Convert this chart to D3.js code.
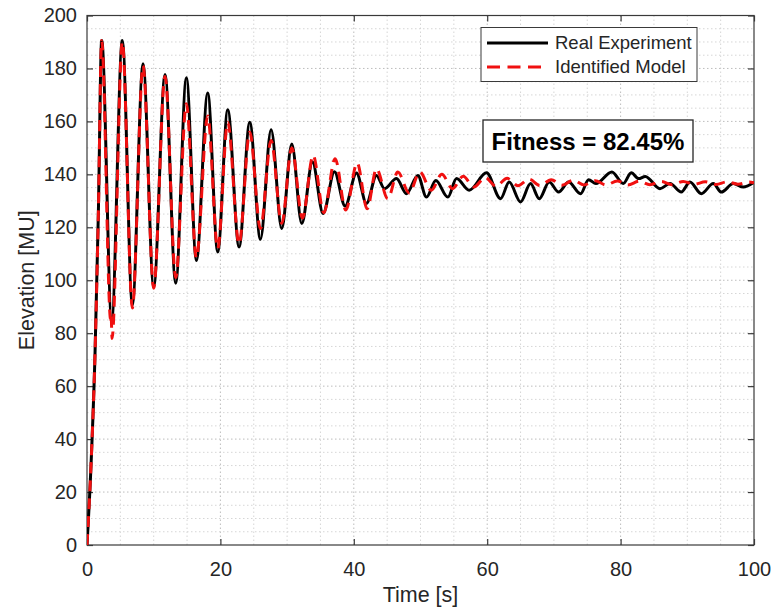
<!DOCTYPE html>
<html>
<head>
<meta charset="utf-8">
<script src="https://cdn.jsdelivr.net/npm/d3@7"></script>
<style>
  html, body { margin: 0; padding: 0; background: #fff; }
  svg { display: block; font-family: "Liberation Sans", Arial, Helvetica, sans-serif; }
</style>
</head>
<body>
<svg id="chart" width="775" height="614"></svg>
<script>
// Measured elevation (local extrema and turning points of the trace)
const realTime = [0, 0.6, 1.2, 1.7, 2.2, 3.7, 5.3, 6.8, 8.4, 10.0, 11.7, 13.3, 14.9, 16.4, 18.1, 19.6,
  21.1, 22.8, 24.4, 26.0, 27.6, 29.2, 30.7, 32.2, 33.8, 35.4, 37.1, 38.7, 40.4, 41.9, 43.4, 44.6,
  46.4, 47.9, 49.6, 50.9, 52.3, 54.1, 55.4, 57.3, 59.9, 62.0, 63.3, 65.0, 66.5, 67.8, 69.3, 70.7,
  72.2, 74.0, 75.2, 76.3, 78.7, 80.4, 81.6, 82.7, 83.7, 85.9, 87.4, 89.1, 90.4, 92.1, 93.9, 95.1,
  96.9, 98.4, 100];
const realElev = [0, 30, 72, 125, 190.6, 85, 190.6, 90.6, 181.8, 97.5, 177.7, 98.9, 176.5, 107.5, 170.7, 110.7,
  164.4, 112.6, 159.7, 115.5, 156.8, 119.5, 151.5, 121.4, 144.7, 125.2, 141, 128, 140.5, 129, 139.6, 134.6,
  138.4, 132.7, 139.6, 131.4, 137.7, 131.4, 138.4, 134, 140.6, 130.8, 137.1, 129.6, 136.5, 130.8, 137.1, 133.3,
  137.1, 132.7, 138, 136.5, 140.9, 136.5, 140.6, 138.4, 139.2, 134.6, 136.5, 133.3, 137.1, 132.7, 136.5, 133.3,
  136.5, 135.2, 137];

// Identified model response
const modelTime = [0, 0.6, 1.2, 1.7, 2.2, 3.55, 3.62, 3.75, 5.3, 6.8, 8.4, 10.0, 11.7, 13.3, 14.9, 16.4,
  18.1, 19.6, 21.1, 22.8, 24.4, 26.0, 27.6, 29.2, 30.7, 32.3, 33.9, 35.5, 37.2, 38.8, 40.5, 42.0,
  43.4, 45.1, 46.6, 48.3, 49.9, 51.6, 53.2, 54.8, 56.4, 58.0, 59.7, 61.3, 63.0, 64.6, 66.3, 67.9,
  69.6, 71.2, 72.9, 74.5, 76.2, 77.8, 79.5, 81.1, 82.8, 84.4, 86.1, 87.7, 89.4, 91.0, 92.7, 94.3,
  96.0, 97.6, 99.3, 100];
const modelElev = [0, 30, 72, 125, 190.6, 85, 87, 78, 190, 89.5, 181, 97, 177, 101, 166.7, 108.5,
  162, 112, 159.7, 113.8, 156, 119.5, 152.8, 121.5, 150, 123.5, 147.2, 125.5, 145.9, 126.5, 144.3, 127,
  142.1, 130.8, 140.9, 133, 140.9, 134, 140, 134.6, 139.3, 135.2, 138.8, 135.5, 138.5, 135.7, 138.2, 135.8,
  138, 135.9, 137.8, 136, 137.6, 136, 137.5, 136, 137.4, 136.1, 137.3, 136.1, 137.3, 136.2, 137.2, 136.2,
  137.2, 136.3, 137.1, 136.8];

const xTicks = [0, 20, 40, 60, 80, 100];
const yTicks = [0, 20, 40, 60, 80, 100, 120, 140, 160, 180, 200];
const seriesNames = ["Real Experiment", "Identified Model"];
const fitnessLabel = "Fitness = 82.45%";

const svg = d3.select("#chart");
const plotLeft = 87, plotRight = 754, plotTop = 15.5, plotBottom = 545;

const x = d3.scaleLinear().domain([0, 100]).range([plotLeft, plotRight]);
const y = d3.scaleLinear().domain([0, 200]).range([plotBottom, plotTop]);

// Grid: dotted minor lines every 5 units, major lines at the ticks
const grid = svg.append("g");
grid.selectAll(".vx").data(d3.range(5, 100, 5)).join("line")
  .attr("x1", d => x(d)).attr("x2", d => x(d))
  .attr("y1", plotTop).attr("y2", plotBottom)
  .attr("stroke", d => d % 20 === 0 ? "#bdbdbd" : "#d6d6d6")
  .attr("stroke-width", 1)
  .attr("stroke-dasharray", "1.5,2.5");
grid.selectAll(".hy").data(d3.range(5, 200, 5)).join("line")
  .attr("y1", d => y(d)).attr("y2", d => y(d))
  .attr("x1", plotLeft).attr("x2", plotRight)
  .attr("stroke", d => d % 20 === 0 ? "#bdbdbd" : "#d6d6d6")
  .attr("stroke-width", 1)
  .attr("stroke-dasharray", "1.5,2.5");

// Axes with inward ticks
const axisColor = "#3a3a3a";
const gx = svg.append("g").attr("transform", `translate(0,${plotBottom})`)
  .call(d3.axisBottom(x).tickValues(xTicks).tickSize(-6).tickPadding(17).tickFormat(d3.format("d")));
const gy = svg.append("g").attr("transform", `translate(${plotLeft},0)`)
  .call(d3.axisLeft(y).tickValues(yTicks).tickSize(-6).tickPadding(10).tickFormat(d3.format("d")));
const gxTop = svg.append("g").attr("transform", `translate(0,${plotTop})`)
  .call(d3.axisTop(x).tickValues(xTicks).tickSize(-6).tickFormat(""));
const gyRight = svg.append("g").attr("transform", `translate(${plotRight},0)`)
  .call(d3.axisRight(y).tickValues(yTicks).tickSize(-6).tickFormat(""));
[gx, gy, gxTop, gyRight].forEach(g => {
  g.select(".domain").remove();
  g.selectAll(".tick line").attr("stroke", axisColor).attr("stroke-width", 1.2);
  g.selectAll(".tick text").attr("fill", "#262626").attr("font-size", 20)
    .attr("font-family", "'Liberation Sans', Arial, sans-serif");
});

// Plot box
svg.append("rect")
  .attr("x", plotLeft).attr("y", plotTop)
  .attr("width", plotRight - plotLeft).attr("height", plotBottom - plotTop)
  .attr("fill", "none").attr("stroke", axisColor).attr("stroke-width", 1.2);

// Axis titles
svg.append("text")
  .attr("x", (plotLeft + plotRight) / 2).attr("y", 602)
  .attr("text-anchor", "middle").attr("font-size", 21.5).attr("fill", "#262626")
  .text("Time [s]");
svg.append("text")
  .attr("transform", `translate(34,${(plotTop + plotBottom) / 2}) rotate(-90)`)
  .attr("text-anchor", "middle").attr("font-size", 21.5).attr("fill", "#262626")
  .text("Elevation [MU]");

// Curves
svg.append("clipPath").attr("id", "plotClip")
  .append("rect").attr("x", plotLeft).attr("y", plotTop - 2)
  .attr("width", plotRight - plotLeft).attr("height", plotBottom - plotTop + 2);

const line = d3.line().x(d => x(d[0])).y(d => y(d[1])).curve(d3.curveMonotoneX);
const realData = d3.zip(realTime, realElev);
const modelData = d3.zip(modelTime, modelElev);

const curves = svg.append("g").attr("clip-path", "url(#plotClip)");
curves.append("path").datum(realData)
  .attr("d", line).attr("fill", "none")
  .attr("stroke", "#000").attr("stroke-width", 3).attr("stroke-linejoin", "round");
curves.append("path").datum(modelData)
  .attr("d", line).attr("fill", "none")
  .attr("stroke", "#f01010").attr("stroke-width", 3)
  .attr("stroke-dasharray", "11,7");

// Legend
const legend = svg.append("g");
legend.append("rect")
  .attr("x", 481).attr("y", 27.5).attr("width", 216).attr("height", 54)
  .attr("fill", "#fff").attr("stroke", axisColor).attr("stroke-width", 1);
const legendStyles = [
  { stroke: "#000", dash: null },
  { stroke: "#f01010", dash: "13,7.5" }
];
seriesNames.forEach((name, i) => {
  const ly = 43 + i * 24;
  legend.append("line")
    .attr("x1", 487).attr("x2", 548).attr("y1", ly).attr("y2", ly)
    .attr("stroke", legendStyles[i].stroke).attr("stroke-width", 3)
    .attr("stroke-dasharray", legendStyles[i].dash);
  legend.append("text")
    .attr("x", 555).attr("y", ly).attr("dy", "0.35em")
    .attr("font-size", 18.5).attr("fill", "#262626")
    .text(name);
});

// Fitness annotation
svg.append("rect")
  .attr("x", 483).attr("y", 120).attr("width", 210).attr("height", 42)
  .attr("fill", "#fff").attr("stroke", "#262626").attr("stroke-width", 1.3);
svg.append("text")
  .attr("x", 588).attr("y", 149.5).attr("text-anchor", "middle")
  .attr("font-size", 24).attr("font-weight", "bold").attr("fill", "#000")
  .text(fitnessLabel);
</script>
</body>
</html>
